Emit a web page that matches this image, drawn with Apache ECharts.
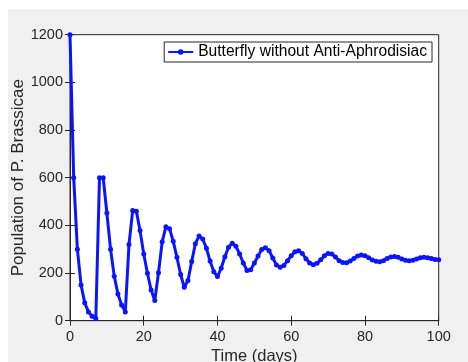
<!DOCTYPE html>
<html>
<head>
<meta charset="utf-8">
<script src="https://cdn.jsdelivr.net/npm/echarts@6/dist/echarts.min.js"></script>
<style>
html,body{margin:0;padding:0;background:#fff;}
#c{width:468px;height:362px;}
</style>
</head>
<body>
<div id="c"></div>
<script>
var days = [0,1,2,3,4,5,6,7,8,9,10,11,12,13,14,15,16,17,18,19,20,21,22,23,24,25,26,27,28,29,30,31,32,33,34,35,36,37,38,39,40,41,42,43,44,45,46,47,48,49,50,51,52,53,54,55,56,57,58,59,60,61,62,63,64,65,66,67,68,69,70,71,72,73,74,75,76,77,78,79,80,81,82,83,84,85,86,87,88,89,90,91,92,93,94,95,96,97,98,99,100];
var population = [1200,600,300,150,75,37,19,9,600,600,452,300,187,112,66,37,320,462,459,378,280,199,129,85,201,331,394,386,333,266,194,140,169,248,323,355,343,304,250,205,185,220,268,308,325,312,280,242,211,214,242,271,299,306,294,263,234,224,232,252,272,289,293,282,260,242,235,241,256,272,282,280,267,252,244,243,250,261,271,276,273,264,255,249,247,252,261,267,269,266,259,254,252,254,259,264,266,264,261,257,256];
var seriesName = 'Butterfly without Anti-Aphrodisiac';
var xTitle = 'Time (days)';
var yTitle = 'Population of P. Brassicae';

var font = 'Liberation Sans, Arial, Helvetica, sans-serif';
var axisColor = '#262626';
var chart = echarts.init(document.getElementById('c'), null, {renderer:'canvas'});
var pts = days.map(function(d,i){return [d, population[i]];});
chart.setOption({
  backgroundColor: '#ffffff',
  animation: false,
  graphic: [{type:'rect', z:-10, silent:true, shape:{x:8,y:9,width:460,height:353}, style:{fill:'#f0f0f0'}}],
  grid: {left:70, right:29.3, top:34.7, bottom:41.3, outerBoundsMode:'none', containLabel:false, show:true, backgroundColor:'#ffffff', borderColor:axisColor, borderWidth:1},
  legend: {
    right: 36, top: 42, orient:'horizontal',
    padding:[2,5,2,3], borderColor:axisColor, borderWidth:1, backgroundColor:'#ffffff',
    itemWidth:25, itemHeight:7, itemGap:4,
    textStyle:{fontFamily:font, fontSize:15.6, color:'#000'},
    data:[seriesName]
  },
  xAxis: [{
    type:'value', min:0, max:100, interval:20,
    name:xTitle, nameLocation:'middle', nameGap:27, nameMoveOverlap:false,
    nameTextStyle:{fontFamily:font, fontSize:16.5, color:axisColor},
    axisLine:{show:true, lineStyle:{color:axisColor, width:1}},
    axisTick:{show:true, inside:true, length:5, lineStyle:{color:axisColor}},
    axisLabel:{fontFamily:font, fontSize:14.5, color:axisColor, margin:9},
    splitLine:{show:false}
  },{
    type:'value', position:'top', min:0, max:100, interval:20,
    axisLine:{show:true, lineStyle:{color:axisColor, width:1}},
    axisTick:{show:true, inside:true, length:5, lineStyle:{color:axisColor}},
    axisLabel:{show:false}, splitLine:{show:false}
  }],
  yAxis: [{
    type:'value', min:0, max:1200, interval:200,
    name:yTitle, nameLocation:'middle', nameGap:43.5, nameRotate:90, nameMoveOverlap:false,
    nameTextStyle:{fontFamily:font, fontSize:17, color:axisColor},
    axisLine:{show:true, lineStyle:{color:axisColor, width:1}},
    axisTick:{show:true, inside:true, length:5, lineStyle:{color:axisColor}},
    axisLabel:{fontFamily:font, fontSize:14.5, color:axisColor, margin:7, formatter:function(v){return String(v);}},
    splitLine:{show:false}
  },{
    type:'value', position:'right', min:0, max:1200, interval:200,
    axisLine:{show:true, lineStyle:{color:axisColor, width:1}},
    axisTick:{show:true, inside:true, length:5, lineStyle:{color:axisColor}},
    axisLabel:{show:false}, splitLine:{show:false}
  }],
  series: [{
    name: seriesName, type:'line', xAxisIndex:0, yAxisIndex:0,
    data: pts, showSymbol:true, symbol:'circle', symbolSize:5,
    lineStyle:{color:'#0a14ff', width:3},
    itemStyle:{color:'#0a14ff'},
    clip:false
  }]
});
</script>
</body>
</html>
